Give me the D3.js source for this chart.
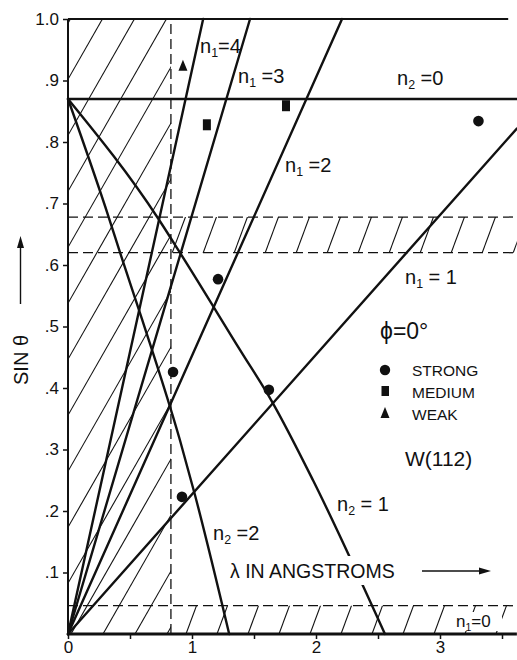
<!DOCTYPE html>
<html><head><meta charset="utf-8">
<script src="https://cdn.jsdelivr.net/npm/d3@7"></script>
<style>
body{margin:0;background:#fff}
svg{display:block}
text{font-family:"Liberation Sans",Arial,sans-serif;fill:#111}
</style>
</head><body><svg id="c" width="517" height="660"></svg>
<script>
// ---- data ----
const xTickValues = [0, 0.5, 1, 1.5, 2, 2.5, 3, 3.5];
const xTickLabels = ["0", "", "1", "", "2", "", "3", ""];
const yTickValues = [0.1, 0.2, 0.3, 0.4, 0.5, 0.6, 0.7, 0.8, 0.9, 1.0];
const yTickLabels = [".1", ".2", ".3", ".4", ".5", ".6", ".7", ".8", ".9", "1.0"];

const n1Orders = [1, 2, 3, 4];
const n1Ends = [[3.62, 0.822], [2.21, 1.0], [1.468, 1.0], [1.09, 1.0]];
const n2Zero = [[0, 0.87], [3.62, 0.87]];
const n2One = [[0, 0.87], [0.726, 0.676], [0.903, 0.62], [1.387, 0.462], [1.645, 0.378], [1.976, 0.25], [2.556, 0]];
const n2Two = [[0, 0.87], [0.331, 0.676], [0.42, 0.62], [0.6, 0.51], [0.903, 0.315], [1.024, 0.226], [1.30, 0]];

const strong = [[3.31, 0.834], [1.21, 0.577], [0.847, 0.426], [1.62, 0.397], [0.919, 0.223]];
const medium = [[1.12, 0.828], [1.758, 0.859]];
const weak = [[0.927, 0.924]];

const cutoffLambda = 0.83;
const bandLow = 0.62, bandHigh = 0.678;
const floorBand = 0.046;
const xMax = 3.62, topLineEnd = 3.55;

// ---- scales ----
const svg = d3.select("#c");
const x = d3.scaleLinear().domain([0, 3.6]).range([68, 514.4]);
const y = d3.scaleLinear().domain([0, 1]).range([634, 19]);

// ---- hatching ----
const defs = svg.append("defs");
function clipRect(id, x0, x1, y0, y1) {
  defs.append("clipPath").attr("id", id).append("rect")
    .attr("x", x(x0)).attr("y", y(y1)).attr("width", x(x1) - x(x0)).attr("height", y(y0) - y(y1));
}
clipRect("cl", 0, cutoffLambda, 0, 1);
clipRect("cb", cutoffLambda, xMax, bandLow, bandHigh);
clipRect("cf", cutoffLambda, xMax, 0, floorBand);

function hatch(clip, slope, spacing, phase) {
  const g = svg.append("g").attr("clip-path", `url(#${clip})`)
    .attr("stroke", "#111").attr("stroke-width", 1.1);
  const h = y(0) - y(1);
  for (let xb = phase - 600; xb < 530; xb += spacing) {
    g.append("line").attr("x1", xb).attr("y1", y(0)).attr("x2", xb + h / slope).attr("y2", y(1));
  }
}
hatch("cl", 1.75, 32, 95);
hatch("cb", 2.7, 31, 42);
hatch("cf", 2.7, 31, 42);

// ---- dashed lines ----
const dash = svg.append("g").attr("stroke", "#111").attr("stroke-width", 1.3).attr("stroke-dasharray", "10,5").attr("fill", "none");
dash.append("line").attr("x1", x(cutoffLambda)).attr("x2", x(cutoffLambda)).attr("y1", y(0)).attr("y2", y(1));
[bandLow, bandHigh, floorBand].forEach(v => {
  dash.append("line").attr("x1", x(0)).attr("x2", x(xMax)).attr("y1", y(v)).attr("y2", y(v));
});

// ---- axes ----
const ax = svg.append("g").attr("transform", `translate(0,${y(0)})`)
  .call(d3.axisBottom(x).tickValues(xTickValues).tickSize(5).tickSizeOuter(0)
    .tickFormat((d, i) => xTickLabels[i]));
ax.select(".domain").remove();
ax.selectAll(".tick line").attr("stroke", "#111").attr("stroke-width", 1.5);
ax.selectAll(".tick text").attr("font-size", 17).attr("y", 7).attr("dy", "0.71em")
  .style("font-family", "Liberation Sans, Arial, sans-serif").attr("fill", "#111");

const ay = svg.append("g").attr("transform", `translate(${x(0)},0)`)
  .call(d3.axisLeft(y).tickValues(yTickValues).tickSize(5).tickSizeOuter(0)
    .tickFormat((d, i) => yTickLabels[i]));
ay.select(".domain").remove();
ay.selectAll(".tick line").attr("stroke", "#111").attr("stroke-width", 1.5);
ay.selectAll(".tick text").attr("font-size", 17).attr("x", -9).style("font-family", "Liberation Sans, Arial, sans-serif").attr("fill", "#111");

// frame lines
const frame = svg.append("g").attr("stroke", "#111").attr("fill", "none");
frame.append("line").attr("x1", x(0)).attr("x2", x(0)).attr("y1", y(0)).attr("y2", y(1)).attr("stroke-width", 2);
frame.append("line").attr("x1", x(0)).attr("x2", x(topLineEnd)).attr("y1", y(1)).attr("y2", y(1)).attr("stroke-width", 2);
frame.append("line").attr("x1", x(0) - 1).attr("x2", x(xMax)).attr("y1", y(0)).attr("y2", y(0)).attr("stroke-width", 3);

// ---- main lines ----
const line = d3.line().x(d => x(d[0])).y(d => y(d[1]));
const curve = d3.line().x(d => x(d[0])).y(d => y(d[1])).curve(d3.curveMonotoneX);
const main = svg.append("g").attr("stroke", "#111").attr("stroke-width", 2.4).attr("fill", "none").attr("stroke-linecap", "round");
n1Orders.forEach((n, i) => main.append("path").attr("d", line([[0, 0], n1Ends[i]])));
main.append("path").attr("d", line(n2Zero));
main.append("path").attr("d", curve(n2One));
main.append("path").attr("d", curve(n2Two));

// ---- labels ----
function nLabel(px, py, sub, rest, size) {
  const t = svg.append("text").attr("x", px).attr("y", py).attr("font-size", size);
  t.append("tspan").text("n");
  t.append("tspan").attr("font-size", size * 0.62).attr("dy", size * 0.22).text(sub);
  t.append("tspan").attr("dy", -size * 0.22).text(rest);
  return t;
}
nLabel(200, 53, "1", "=4", 20);
nLabel(238, 83, "1", " =3", 20);
nLabel(397, 85, "2", " =0", 20);
nLabel(285, 172, "1", " =2", 20);
nLabel(405, 284, "1", " = 1", 20);
nLabel(337, 511, "2", " = 1", 20);
nLabel(213, 540, "2", " =2", 20);

// n1=0 with knockout
svg.append("rect").attr("x", 454).attr("y", 612).attr("width", 48).attr("height", 19).attr("fill", "#fff");
nLabel(456, 627, "1", "=0", 17);

svg.append("text").attr("x", 380).attr("y", 339).attr("font-size", 23).text("\u03D5=0\u00B0");

// legend
const lg = svg.append("g");
lg.append("circle").attr("cx", 385).attr("cy", 370).attr("r", 5.2).attr("fill", "#111");
lg.append("rect").attr("x", 381.5).attr("y", 386).attr("width", 7.5).attr("height", 10).attr("fill", "#111");
lg.append("path").attr("d", "M385,407 L389.5,418 L380.5,418 Z").attr("fill", "#111");
lg.append("text").attr("x", 412).attr("y", 376).attr("font-size", 15.5).text("STRONG");
lg.append("text").attr("x", 412).attr("y", 398).attr("font-size", 15.5).text("MEDIUM");
lg.append("text").attr("x", 412).attr("y", 420).attr("font-size", 15.5).text("WEAK");

svg.append("text").attr("x", 405).attr("y", 466).attr("font-size", 21).text("W(112)");

// x axis title with knockout
svg.append("rect").attr("x", 226).attr("y", 556).attr("width", 190).attr("height", 29).attr("fill", "#fff");
svg.append("text").attr("x", 230).attr("y", 578).attr("font-size", 19.5).text("\u03BB IN ANGSTROMS");
const arr = svg.append("g").attr("stroke", "#111").attr("stroke-width", 1.4);
arr.append("line").attr("x1", 422).attr("x2", 482).attr("y1", 571).attr("y2", 571);
svg.append("path").attr("d", "M491,571 L479,567.5 L479,574.5 Z").attr("fill", "#111");

// y axis title
svg.append("text").attr("transform", "translate(28,385) rotate(-90)").attr("font-size", 20).text("SIN \u03B8");
arr.append("line").attr("x1", 20.5).attr("x2", 20.5).attr("y1", 304).attr("y2", 246);
svg.append("path").attr("d", "M20.5,236 L17,248 L24,248 Z").attr("fill", "#111");

// ---- markers ----
const mk = svg.append("g").attr("fill", "#111");
mk.selectAll("circle.s").data(strong).enter().append("circle")
  .attr("cx", d => x(d[0])).attr("cy", d => y(d[1])).attr("r", 5.3);
mk.selectAll("rect.m").data(medium).enter().append("rect")
  .attr("x", d => x(d[0]) - 4).attr("y", d => y(d[1]) - 5.5).attr("width", 8).attr("height", 11);
mk.selectAll("path.w").data(weak).enter().append("path")
  .attr("d", d => { const cx = x(d[0]), cy = y(d[1]); return `M${cx},${cy - 6} L${cx + 4.5},${cy + 5} L${cx - 4.5},${cy + 5} Z`; });
</script>
</body></html>
